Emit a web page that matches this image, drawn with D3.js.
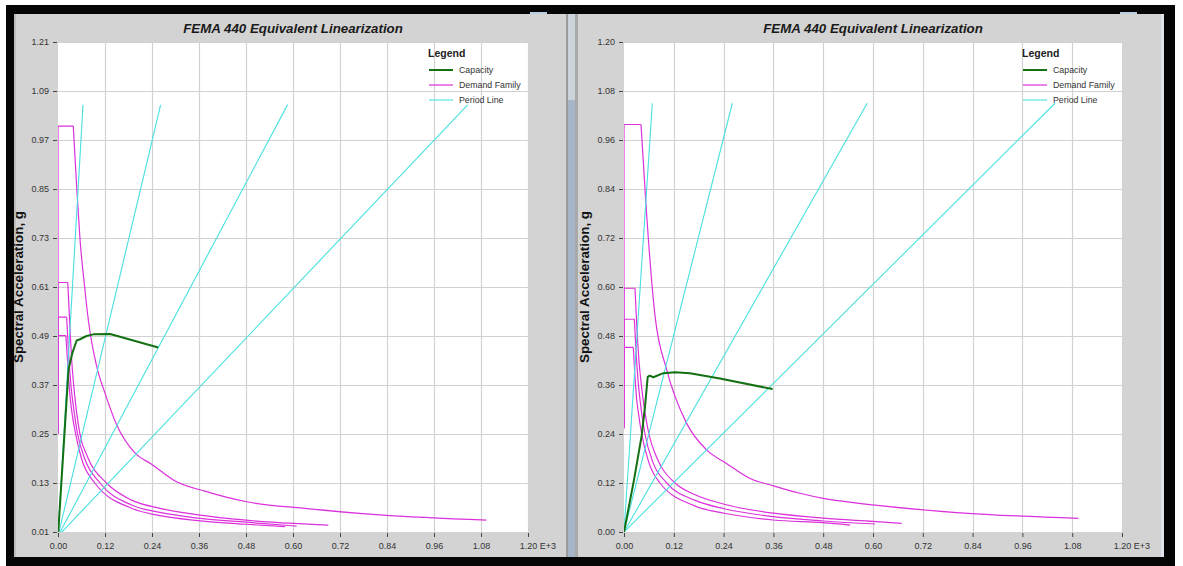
<!DOCTYPE html>
<html>
<head>
<meta charset="utf-8">
<script src="https://cdn.jsdelivr.net/npm/d3@7"></script>
<style>
  html, body { margin: 0; padding: 0; background: #ffffff; }
  svg { display: block; }
  text { font-family: "Liberation Sans", Arial, sans-serif; }
</style>
</head>
<body>
<script>
// ---------------- DATA ----------------
const titleText = "FEMA 440 Equivalent Linearization";
const yAxisTitle = "Spectral Acceleration, g";
const legendTitle = "Legend";
const legendLabels = ["Capacity", "Demand Family", "Period Line"];
const xUnitSuffix = " E+3";

const xTickValues = [0, 0.12, 0.24, 0.36, 0.48, 0.60, 0.72, 0.84, 0.96, 1.08, 1.20];
const leftYTickValues = [0.01, 0.13, 0.25, 0.37, 0.49, 0.61, 0.73, 0.85, 0.97, 1.09, 1.21];
const rightYTickValues = [0, 0.12, 0.24, 0.36, 0.48, 0.60, 0.72, 0.84, 0.96, 1.08, 1.20];

// Left chart
const leftCapacity = [[0, 0], [0.027, 0.41], [0.0366, 0.448], [0.0477, 0.479], [0.0562, 0.482],
  [0.073, 0.490], [0.090, 0.494], [0.133, 0.495], [0.256, 0.462]];
const leftDemandA = [[0, 0.40], [0, 1.004], [0.039, 1.004], [0.048, 0.85], [0.056, 0.73], [0.068, 0.61],
  [0.078, 0.525], [0.099, 0.415], [0.12, 0.350], [0.15, 0.272], [0.197, 0.203], [0.239, 0.176],
  [0.299, 0.135], [0.375, 0.110], [0.482, 0.084], [0.631, 0.068], [0.822, 0.052], [1.094, 0.039]];
const leftDemandB = [[0, 0.255], [0, 0.621], [0.025, 0.621], [0.030, 0.52], [0.035, 0.43], [0.041, 0.36],
  [0.056, 0.25], [0.075, 0.195], [0.124, 0.13], [0.188, 0.088], [0.26, 0.068], [0.358, 0.052],
  [0.48, 0.039], [0.60, 0.031], [0.69, 0.027]];
const leftDemandC = [[0, 0.25], [0, 0.536], [0.022, 0.536], [0.027, 0.45], [0.033, 0.37], [0.039, 0.32],
  [0.050, 0.25], [0.068, 0.19], [0.107, 0.13], [0.188, 0.076], [0.26, 0.058], [0.358, 0.044],
  [0.48, 0.034], [0.609, 0.0245]];
const leftDemandD = [[0, 0.25], [0, 0.491], [0.020, 0.491], [0.025, 0.42], [0.030, 0.35], [0.036, 0.30],
  [0.045, 0.25], [0.060, 0.19], [0.094, 0.13], [0.188, 0.068], [0.26, 0.05], [0.358, 0.038],
  [0.48, 0.029], [0.58, 0.023]];
const leftPeriodEnds = [[0.0638, 1.056], [0.262, 1.056], [0.586, 1.056], [1.046, 1.056]];

// Right chart
const rightCapacity = [[0, 0], [0.024, 0.127], [0.0426, 0.236], [0.0506, 0.307], [0.0571, 0.380],
  [0.062, 0.383], [0.0707, 0.379], [0.0947, 0.389], [0.123, 0.391], [0.159, 0.389], [0.231, 0.376],
  [0.358, 0.350]];
const rightDemandA = [[0, 0.40], [0, 0.998], [0.041, 0.998], [0.0522, 0.813], [0.0747, 0.53], [0.103, 0.397],
  [0.151, 0.266], [0.199, 0.201], [0.247, 0.168], [0.304, 0.131], [0.36, 0.113], [0.424, 0.095],
  [0.48, 0.0825], [0.553, 0.072], [0.617, 0.0644], [0.81, 0.047], [1.095, 0.0336]];
const rightDemandB = [[0, 0.254], [0, 0.597], [0.0265, 0.597], [0.031, 0.50], [0.036, 0.42], [0.043, 0.35],
  [0.060, 0.24], [0.080, 0.18], [0.123, 0.12], [0.17, 0.092], [0.2417, 0.068], [0.36, 0.046], [0.48, 0.034],
  [0.60, 0.026], [0.669, 0.0213]];
const rightDemandC = [[0, 0.254], [0, 0.521], [0.025, 0.521], [0.029, 0.44], [0.034, 0.37], [0.039, 0.32],
  [0.0506, 0.24], [0.070, 0.17], [0.103, 0.12], [0.17, 0.078], [0.2417, 0.057], [0.36, 0.0375], [0.48, 0.027],
  [0.605, 0.0196]];
const rightDemandD = [[0, 0.254], [0, 0.452], [0.0224, 0.452], [0.026, 0.39], [0.030, 0.33], [0.035, 0.29],
  [0.0426, 0.24], [0.060, 0.17], [0.0867, 0.12], [0.17, 0.064], [0.2417, 0.046], [0.36, 0.0294], [0.48, 0.0228],
  [0.545, 0.017]];
const rightPeriodEnds = [[0.0683, 1.05], [0.261, 1.05], [0.586, 1.05], [1.0386, 1.05]];
const periodOrigin = [0, 0];

// ---------------- STYLE / LAYOUT ----------------
const W = 1183, H = 566;
const COL_PANEL = "#d3d3d3";
const COL_GRID = "#d2d2d2";
const COL_TEXT = "#333333";
const COL_CAP = "#137013";
const COL_DEM = "#dc30dc";
const COL_PER = "#48e0e0";
const FONT = '"Liberation Sans", Arial, sans-serif';

const svg = d3.select("body").append("svg").attr("width", W).attr("height", H);

// Window frame
svg.append("rect").attr("x", 0).attr("y", 0).attr("width", W).attr("height", H).attr("fill", "#ffffff");
svg.append("rect").attr("x", 6).attr("y", 5).attr("width", 1169).attr("height", H - 5).attr("fill", "#050505");
svg.append("rect").attr("x", 14).attr("y", 14).attr("width", 553).attr("height", 543).attr("fill", COL_PANEL);
svg.append("rect").attr("x", 14).attr("y", 14).attr("width", 2).attr("height", 543).attr("fill", "#bdbdbd");
// scrollbar strip between windows
svg.append("rect").attr("x", 566).attr("y", 14).attr("width", 2).attr("height", 543).attr("fill", "#9c9c9c");
svg.append("rect").attr("x", 568).attr("y", 14).attr("width", 7).attr("height", 543).attr("fill", "#a6b6c8");
svg.append("rect").attr("x", 568).attr("y", 14).attr("width", 7).attr("height", 86).attr("fill", "#cdd3da");
svg.append("rect").attr("x", 575).attr("y", 14).attr("width", 587).attr("height", 543).attr("fill", COL_PANEL);
svg.append("rect").attr("x", 575).attr("y", 14).attr("width", 3).attr("height", 543).attr("fill", "#a9a9a9");
svg.append("rect").attr("x", 1161).attr("y", 14).attr("width", 3).attr("height", 543).attr("fill", "#dfe6ee");
svg.append("rect").attr("x", 530).attr("y", 12).attr("width", 17).attr("height", 2).attr("fill", "#b9cde0");
svg.append("rect").attr("x", 1120).attr("y", 12).attr("width", 17).attr("height", 2).attr("fill", "#b9cde0");

const panels = [
  { id: "L", plot: { x0: 58, x1: 528, y0: 42, y1: 532 }, yDomain: [0.01, 1.21], yTicks: leftYTickValues,
    capacity: leftCapacity, demand: [leftDemandA, leftDemandB, leftDemandC, leftDemandD], periods: leftPeriodEnds },
  { id: "R", plot: { x0: 624, x1: 1122, y0: 42, y1: 532 }, yDomain: [0, 1.20], yTicks: rightYTickValues,
    capacity: rightCapacity, demand: [rightDemandA, rightDemandB, rightDemandC, rightDemandD], periods: rightPeriodEnds }
];

panels.forEach(p => {
  const { x0, x1, y0, y1 } = p.plot;
  const x = d3.scaleLinear().domain([0, 1.20]).range([x0, x1]);
  const y = d3.scaleLinear().domain(p.yDomain).range([y1, y0]);
  const g = svg.append("g");

  // plot background
  g.append("rect").attr("x", x0).attr("y", y0).attr("width", x1 - x0).attr("height", y1 - y0).attr("fill", "#ffffff");

  // grid
  g.append("g").selectAll("line").data(xTickValues.slice(1)).join("line")
    .attr("x1", d => Math.round(x(d)) + 0.5).attr("x2", d => Math.round(x(d)) + 0.5)
    .attr("y1", y0).attr("y2", y1).attr("stroke", COL_GRID).attr("stroke-width", 1.2);
  g.append("g").selectAll("line").data(p.yTicks.slice(1)).join("line")
    .attr("y1", d => Math.round(y(d)) + 0.5).attr("y2", d => Math.round(y(d)) + 0.5)
    .attr("x1", x0).attr("x2", x1).attr("stroke", COL_GRID).attr("stroke-width", 1.2);

  // axes
  const fmt = d3.format(".2f");
  const yAxis = g.append("g").attr("transform", `translate(${x0 - 1},0)`)
    .call(d3.axisLeft(y).tickValues(p.yTicks).tickFormat(fmt).tickSize(4).tickPadding(4));
  const xAxis = g.append("g").attr("transform", `translate(0,${y1 + 1})`)
    .call(d3.axisBottom(x).tickValues(xTickValues).tickFormat(fmt).tickSize(4).tickPadding(6));
  [yAxis, xAxis].forEach(a => {
    a.select(".domain").remove();
    a.selectAll(".tick line").attr("stroke", "#444").attr("stroke-width", 1);
    a.selectAll(".tick text").attr("fill", COL_TEXT).style("font-family", FONT).style("font-size", "9px");
  });
  // last x label gets the unit multiplier
  const lastLabel = xAxis.selectAll(".tick text").filter((d, i, n) => i === n.length - 1);
  const wBase = lastLabel.node().getComputedTextLength();
  lastLabel.text(fmt(xTickValues[xTickValues.length - 1]) + xUnitSuffix)
    .attr("text-anchor", "start").attr("x", -wBase / 2);

  // clip
  const clipId = "clip" + p.id;
  svg.append("clipPath").attr("id", clipId).append("rect")
    .attr("x", x0).attr("y", y0).attr("width", x1 - x0).attr("height", y1 - y0);
  const plotG = g.append("g").attr("clip-path", `url(#${clipId})`);
  const line = d3.line().x(d => x(d[0])).y(d => y(d[1]));
  const smooth = d3.line().x(d => x(d[0])).y(d => y(d[1])).curve(d3.curveMonotoneX);

  // demand family: vertical + plateau straight, descending branch smooth
  p.demand.forEach(dem => {
    plotG.append("path").datum(dem.slice(0, 3)).attr("d", line)
      .attr("fill", "none").attr("stroke", COL_DEM).attr("stroke-width", 1.2);
    plotG.append("path").datum(dem.slice(2)).attr("d", smooth)
      .attr("fill", "none").attr("stroke", COL_DEM).attr("stroke-width", 1.2);
  });
  // period lines
  plotG.selectAll("path.per").data(p.periods).join("path").attr("class", "per")
    .attr("d", d => line([periodOrigin, d])).attr("fill", "none").attr("stroke", COL_PER).attr("stroke-width", 1.1);
  // capacity
  plotG.append("path").datum(p.capacity).attr("d", line)
    .attr("fill", "none").attr("stroke", COL_CAP).attr("stroke-width", 2).attr("stroke-linejoin", "round");

  // title
  g.append("text").attr("x", (x0 + x1) / 2).attr("y", 32.5).attr("text-anchor", "middle")
    .style("font-size", "13.3px").style("font-weight", "bold").style("font-style", "italic")
    .attr("fill", "#1a1a1a").text(titleText);

  // y axis title
  g.append("text").attr("transform", `translate(${x0 - 35},${(y0 + y1) / 2}) rotate(-90)`)
    .attr("text-anchor", "middle").style("font-size", "13.4px").style("font-weight", "bold")
    .attr("fill", "#111").text(yAxisTitle);

  // legend
  const lx = x1 - 100;
  const lg = g.append("g");
  lg.append("text").attr("x", lx).attr("y", 56.5).style("font-size", "10.5px").style("font-weight", "bold")
    .attr("fill", "#222").text(legendTitle);
  const legCols = [COL_CAP, COL_DEM, COL_PER];
  const legW = [2, 1.2, 1.1];
  legendLabels.forEach((lab, i) => {
    const yy = 70 + i * 15;
    lg.append("line").attr("x1", lx + 1).attr("x2", lx + 25).attr("y1", yy).attr("y2", yy)
      .attr("stroke", legCols[i]).attr("stroke-width", legW[i]);
    lg.append("text").attr("x", lx + 31).attr("y", yy + 3).style("font-size", "8.8px")
      .attr("fill", COL_TEXT).text(lab);
  });
});
</script>
</body>
</html>
